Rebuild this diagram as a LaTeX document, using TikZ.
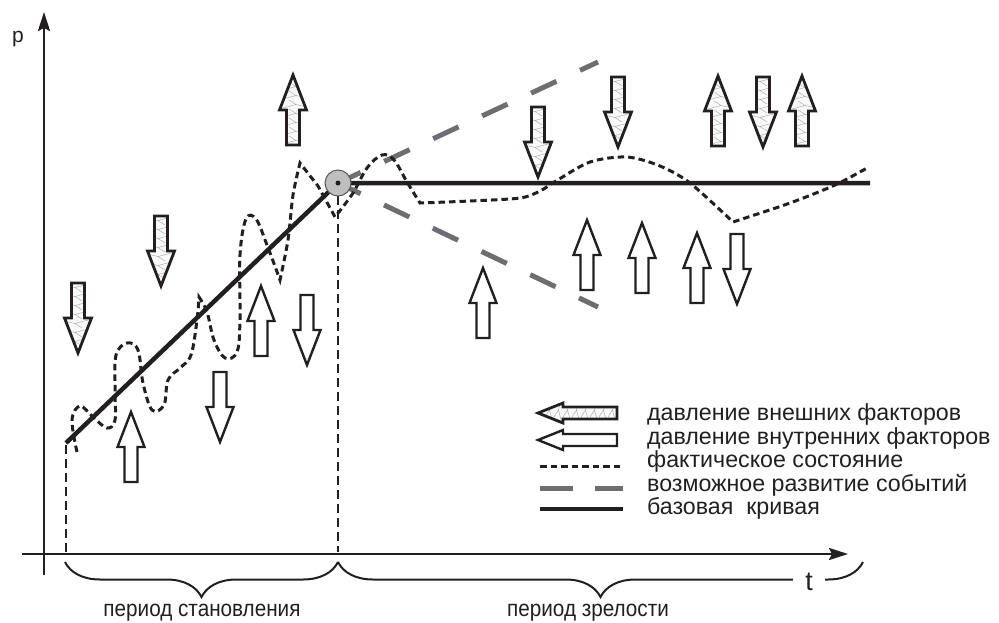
\documentclass[tikz,border=0pt]{standalone}
\usepackage{fontspec}
\setmainfont{Liberation Sans}
\newfontfamily\narrowfont[FakeStretch=0.9]{Liberation Sans}
\usetikzlibrary{arrows.meta,decorations.pathreplacing}

\definecolor{ink}{HTML}{231F20}
\definecolor{possible}{HTML}{6D6E71}
\definecolor{knotfill}{HTML}{BFBFBF}
\definecolor{meshcol}{HTML}{A7A9AC}

% block arrow sizes (pointing up, centred at the origin)
\def\blkhalf{35}\def\blkhead{35}\def\blkwing{13.5}\def\blkshaft{6.5}
\newcommand{\blockpath}{(-\blkshaft,\blkhalf) -- (-\blkshaft,{\blkhead-\blkhalf}) -- (-\blkwing,{\blkhead-\blkhalf}) -- (0,-\blkhalf) -- (\blkwing,{\blkhead-\blkhalf}) -- (\blkshaft,{\blkhead-\blkhalf}) -- (\blkshaft,\blkhalf) -- cycle}

\tikzset{
  outerpress/.pic={
    \fill[gray!5] \blockpath;
    \begin{scope}
      \clip \blockpath;
      % rough triangle mesh
      \foreach \k in {0,...,8}
        \draw[meshcol,line width=.45pt] (-14,{\blkhalf-9*\k}) -- (3,{\blkhalf-4.5-9*\k}) -- (-4,{\blkhalf-9-9*\k});
      \foreach \k in {0,...,8}
        \draw[meshcol,line width=.45pt] (14,{\blkhalf-2-9*\k}) -- (3,{\blkhalf-4.5-9*\k});
    \end{scope}
    \draw[ink,line width=2.8pt,line join=miter] \blockpath;
  },
  innerpress/.pic={
    \draw[ink,fill=white,line width=2.4pt,line join=miter] \blockpath;
  },
  actual/.style={ink,line width=3pt,dash pattern=on 6.5pt off 4pt},
  devline/.style={possible,line width=5pt,dash pattern=on 28pt off 26pt,dash phase=3pt},
  basecurve/.style={ink,line width=4.5pt},
  guide/.style={ink,line width=1.2pt,dash pattern=on 9pt off 5pt},
  axis/.style={ink,line width=2.6pt,-{Stealth[length=19pt,width=12pt,inset=3pt]}},
  bracket/.style={ink,line width=2pt,decorate,decoration={brace,mirror,amplitude=35pt}},
  legtext/.style={font=\fontsize{23.2}{27}\selectfont,text=ink,anchor=base west,inner sep=0pt},
  period/.style={font=\narrowfont\fontsize{23}{27}\selectfont,text=ink,inner sep=0pt},
  axislabel/.style={font=\fontsize{27}{30}\selectfont,text=ink,anchor=base,inner sep=0pt}
}

\begin{document}
\begin{tikzpicture}[x=1pt,y=-1pt]
\useasboundingbox (0,0) rectangle (999,622);

% axes
\draw[axis] (44,575) -- (44,12);
\draw[axis] (22,554) -- (848,554);
\node[axislabel,font=\fontsize{21}{24}\selectfont] (plabel) at (18,42) {p};

% guides down to the time axis
\draw[guide] (66,445) -- (66,552);
\draw[guide] (338,196) -- (338,552);

% base curve and possible development
\draw[basecurve] (66,443) -- (338,183) -- (870,183);
\draw[devline] (338,183) -- (598,62);
\draw[devline] (338,183) -- (598,307);
\node[circle,fill=knotfill,draw=gray!70!black,line width=1pt,minimum size=26pt,inner sep=0pt] (knot) at (338,183) {};
\fill[ink] (knot.center) circle (2.5);

% actual state
\draw[actual] plot[smooth,tension=0.6] coordinates {(77,452) (72,420) (80,406) (93,417) (107,428) (115,420) (115,390) (116,355) (127,343) (138,350) (143,383) (152,410) (164,405) (168,380) (180,368) (191,355) (197,320) (199,297)}
  -- plot[smooth,tension=0.6] coordinates {(199,297) (207,312) (214,340) (225,358) (237,352) (240,320) (240,255) (246,219) (256,219) (267,245) (280,280)}
  -- plot[smooth,tension=0.5] coordinates {(280,280) (288,240) (293,195) (300,163)}
  -- (318,186) -- (335,217)
  -- plot[smooth,tension=0.6] coordinates {(335,217) (353,193) (367,168) (382,155) (394,160) (407,182) (420,203)}
  -- plot[smooth,tension=0.5] coordinates {(420,203) (470,201) (520,198) (540,191) (556,181) (590,162) (627,157) (660,166) (690,183) (733,222)}
  -- plot[smooth,tension=0.5] coordinates {(733,222) (790,203) (835,185) (867,168)};

% external pressure
\foreach \x/\y/\r in {78/318/180, 161/251/180, 293/110/0, 538/142/180, 618/112/180, 718/111/0, 763/112/180, 802/111/0}
  \pic[rotate=\r] at (\x,\y) {outerpress};

% internal pressure
\foreach \x/\y/\r in {131/447/0, 220/407/180, 261/321/0, 307/330/180, 483/303/0, 587/255/0, 642/258/0, 697/268/0, 737/269/180}
  \pic[rotate=\r] at (\x,\y) {innerpress};

% legend
\begin{scope}
\def\blkhalf{39.5}\def\blkhead{25}\def\blkwing{10}\def\blkshaft{6}
\pic[rotate=90] at (577.5,413) {outerpress};
\pic[rotate=90] at (577.5,440) {innerpress};
\end{scope}
\draw[actual] (540,466) -- (623,466);
\draw[possible,line width=5pt] (540,488) -- (573,488) (595,488) -- (623,488);
\draw[basecurve] (540,509) -- (623,509);

\node[legtext] (leg1) at (647,420) {давление внешних факторов};
\node[legtext] (leg2) at (647,444) {давление внутренних факторов};
\node[legtext] (leg3) at (647,467.5) {фактическое состояние};
\node[legtext] (leg4) at (647,491) {возможное развитие событий};
\node[legtext] (leg5) at (647,514.5) {базовая\ \ кривая};

% periods
\draw[bracket] (65,562) -- (338,562);
\draw[bracket] (338,562) -- (863,562);
\node[axislabel,fill=white,inner xsep=12pt] (tlabel) at (809,590) {t};
\node[period] (young) at (202,613) {период становления};
\node[period] (mature) at (588,613) {период зрелости};

\end{tikzpicture}
\end{document}
